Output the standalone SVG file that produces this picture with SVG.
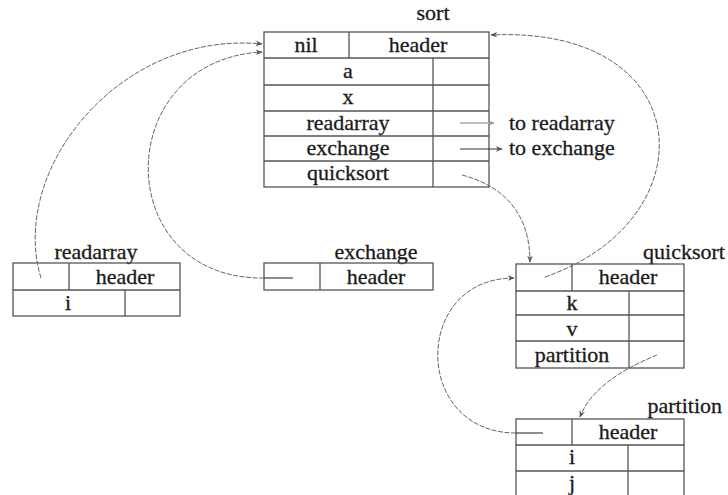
<svg xmlns="http://www.w3.org/2000/svg" width="728" height="495" viewBox="0 0 728 495">
<style>
.box{fill:none;stroke:#555;stroke-width:1.3}
.t{font-family:"Liberation Serif","Times New Roman",serif;font-size:22px;fill:#1a1a1a;stroke:#1a1a1a;stroke-width:0.3;text-anchor:middle}
.tl{font-family:"Liberation Serif","Times New Roman",serif;font-size:22px;fill:#1a1a1a;stroke:#1a1a1a;stroke-width:0.3;text-anchor:start}
.te{font-family:"Liberation Serif","Times New Roman",serif;font-size:22px;fill:#1a1a1a;stroke:#1a1a1a;stroke-width:0.3;text-anchor:end}
.c{fill:none;stroke:#666;stroke-width:1;stroke-dasharray:5 1.5}
.s{fill:none;stroke:#444;stroke-width:1.2}
</style>
<defs>
<marker id="ah" viewBox="0 0 10 10" refX="9" refY="5" markerWidth="7" markerHeight="7" orient="auto" markerUnits="userSpaceOnUse">
<path d="M0,1 L10,5 L0,9 L3,5 Z" fill="#555"/>
</marker>
<marker id="ahl" viewBox="0 0 10 10" refX="9" refY="5" markerWidth="7" markerHeight="7" orient="auto" markerUnits="userSpaceOnUse">
<path d="M0,1 L10,5 L0,9 L3,5 Z" fill="#999"/>
</marker>
</defs>
<rect width="728" height="495" fill="#fff"/>

<g id="sort">
<text class="t" x="433" y="20">sort</text>
<rect class="box" x="264" y="32" width="225" height="155"/>
<line class="box" x1="264" y1="58" x2="489" y2="58"/>
<line class="box" x1="264" y1="85" x2="489" y2="85"/>
<line class="box" x1="264" y1="111" x2="489" y2="111"/>
<line class="box" x1="264" y1="136" x2="489" y2="136"/>
<line class="box" x1="264" y1="161" x2="489" y2="161"/>
<line class="box" x1="349" y1="32" x2="349" y2="58"/>
<line class="box" x1="433" y1="58" x2="433" y2="187"/>
<text class="t" x="306" y="52">nil</text>
<text class="t" x="418" y="52">header</text>
<text class="t" x="348" y="78">a</text>
<text class="t" x="348" y="104">x</text>
<text class="t" x="348" y="130">readarray</text>
<text class="t" x="348" y="155">exchange</text>
<text class="t" x="348" y="180">quicksort</text>
<text class="tl" x="509" y="130">to readarray</text>
<text class="tl" x="509" y="155">to exchange</text>
</g>

<g id="readarray">
<text class="t" x="96" y="259">readarray</text>
<rect class="box" x="13" y="263" width="167" height="53"/>
<line class="box" x1="13" y1="290" x2="180" y2="290"/>
<line class="box" x1="69" y1="263" x2="69" y2="290"/>
<line class="box" x1="125" y1="290" x2="125" y2="316"/>
<text class="t" x="125" y="284">header</text>
<text class="t" x="68" y="310">i</text>
</g>

<g id="exchange">
<text class="t" x="376" y="259">exchange</text>
<rect class="box" x="264" y="263" width="169" height="27"/>
<line class="box" x1="320" y1="263" x2="320" y2="290"/>
<text class="t" x="376" y="284">header</text>
</g>

<g id="quicksort">
<text class="te" x="725" y="259">quicksort</text>
<rect class="box" x="516" y="264" width="168" height="104"/>
<line class="box" x1="516" y1="291" x2="684" y2="291"/>
<line class="box" x1="516" y1="315" x2="684" y2="315"/>
<line class="box" x1="516" y1="341" x2="684" y2="341"/>
<line class="box" x1="572" y1="264" x2="572" y2="291"/>
<line class="box" x1="629" y1="291" x2="629" y2="368"/>
<text class="t" x="628" y="284">header</text>
<text class="t" x="572" y="310">k</text>
<text class="t" x="572" y="336">v</text>
<text class="t" x="572" y="362">partition</text>
</g>

<g id="partition">
<text class="te" x="722" y="413">partition</text>
<rect class="box" x="516" y="419" width="168" height="80"/>
<line class="box" x1="516" y1="445" x2="684" y2="445"/>
<line class="box" x1="516" y1="471" x2="684" y2="471"/>
<line class="box" x1="572" y1="419" x2="572" y2="445"/>
<line class="box" x1="628" y1="445" x2="628" y2="499"/>
<text class="t" x="628" y="439">header</text>
<text class="t" x="572" y="464">i</text>
<text class="t" x="572" y="490">j</text>
</g>

<g id="connectors">
<line x1="460" y1="123" x2="494" y2="123" stroke="#aaa" stroke-width="1.5" marker-end="url(#ahl)"/>
<line x1="460" y1="149" x2="502" y2="149" stroke="#333" stroke-width="1.2" marker-end="url(#ah)"/>
<path class="c" d="M41,278 C8,170 120,30 262,44" marker-end="url(#ah)"/>
<line class="s" x1="293" y1="278" x2="264" y2="278"/>
<path class="c" d="M264,278 C110,280 110,60 262,52" marker-end="url(#ah)"/>
<path class="c" d="M545,277 C710,220 700,25 491,35" marker-end="url(#ah)"/>
<path class="c" d="M462,175 C500,185 530,210 530,262" marker-end="url(#ah)"/>
<line class="s" x1="543" y1="433" x2="516" y2="433"/>
<path class="c" d="M516,433 C412,433 412,278 514,278" marker-end="url(#ah)"/>
<path class="c" d="M657,355 C620,370 590,390 580,417" marker-end="url(#ah)"/>
</g>
</svg>
